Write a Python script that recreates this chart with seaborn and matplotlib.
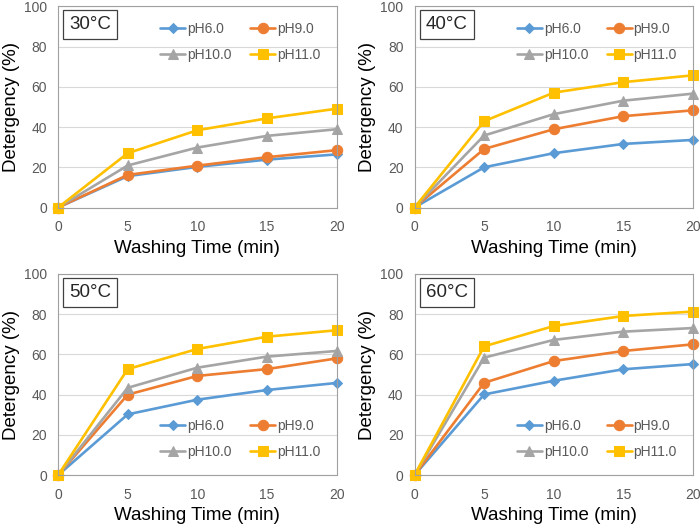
import pandas as pd
import numpy as np
import matplotlib
matplotlib.use("Agg")
import matplotlib.pyplot as plt
import seaborn as sns

# washing time (min)
time = [0, 5, 10, 15, 20]
ph_labels = ["pH6.0", "pH9.0", "pH10.0", "pH11.0"]
temps = ["30°C", "40°C", "50°C", "60°C"]

# detergency (%)
det_30 = {"pH6.0": [0, 15.6, 20.2, 23.8, 26.4],
          "pH9.0": [0, 16.2, 20.8, 25.0, 28.5],
          "pH10.0": [0, 20.9, 29.8, 35.6, 38.9],
          "pH11.0": [0, 27.0, 38.4, 44.3, 49.1]}
det_40 = {"pH6.0": [0, 20.0, 27.0, 31.6, 33.6],
          "pH9.0": [0, 29.1, 38.9, 45.4, 48.3],
          "pH10.0": [0, 35.8, 46.4, 53.1, 56.6],
          "pH11.0": [0, 42.9, 57.1, 62.3, 65.7]}
det_50 = {"pH6.0": [0, 30.2, 37.5, 42.3, 45.8],
          "pH9.0": [0, 40.0, 49.3, 52.7, 58.0],
          "pH10.0": [0, 43.4, 53.4, 58.9, 61.7],
          "pH11.0": [0, 52.7, 62.7, 68.8, 72.0]}
det_60 = {"pH6.0": [0, 40.1, 46.9, 52.6, 55.2],
          "pH9.0": [0, 45.9, 56.7, 61.7, 65.0],
          "pH10.0": [0, 58.4, 67.2, 71.3, 73.1],
          "pH11.0": [0, 64.0, 74.1, 79.1, 81.3]}
all_data = [det_30, det_40, det_50, det_60]

colors = ["#5B9BD5", "#ED7D31", "#A5A5A5", "#FFC000"]
markers = ["D", "o", "^", "s"]
msizes = [5.5, 7.5, 7.5, 7.5]

sns.set_style("white")
plt.rcParams["font.family"] = ["Liberation Sans", "DejaVu Sans"]

fig, axes = plt.subplots(2, 2, figsize=(7, 5.25), dpi=100)
fig.subplots_adjust(left=0.083, right=0.99, top=0.988, bottom=0.095,
                    wspace=0.28, hspace=0.33)

for i, ax in enumerate(axes.flat):
    d = all_data[i]
    rows = []
    for ph in ph_labels:
        for t, v in zip(time, d[ph]):
            rows.append({"time": t, "det": v, "ph": ph})
    df = pd.DataFrame(rows)
    for j, ph in enumerate(ph_labels):
        sns.lineplot(data=df[df.ph == ph], x="time", y="det", ax=ax,
                     color=colors[j], marker=markers[j], markersize=msizes[j],
                     markeredgecolor=colors[j], linewidth=1.9, label=ph)
    ax.set_xlim(0, 20)
    ax.set_ylim(0, 100)
    ax.set_xticks([0, 5, 10, 15, 20])
    ax.set_yticks([0, 20, 40, 60, 80, 100])
    ax.yaxis.grid(True, color="#D9D9D9", linewidth=0.8)
    ax.set_axisbelow(True)
    for sp in ax.spines.values():
        sp.set_color("#A0A0A0")
        sp.set_linewidth(0.8)
    ax.tick_params(axis="both", labelsize=10, colors="#595959", length=0)
    ax.tick_params(axis="x", pad=9)
    ax.tick_params(axis="y", pad=8)
    ax.set_xlabel("Washing Time (min)", fontsize=13.5, color="black", labelpad=4)
    ax.set_ylabel("Detergency (%)", fontsize=13.5, color="black", labelpad=3)
    for line in ax.lines:
        line.set_clip_on(False)
    # row-wise legend order: pH6.0 pH9.0 / pH10.0 pH11.0
    h, l = ax.get_legend_handles_labels()
    order = [0, 2, 1, 3]
    loc = "upper right" if i < 2 else "lower right"
    ax.legend([h[k] for k in order], [l[k] for k in order], loc=loc, ncol=2,
              frameon=False, fontsize=10, handlelength=1.8, columnspacing=1.3,
              handletextpad=0.15, labelspacing=0.85, labelcolor="#595959",
              borderaxespad=0.75)
    ax.text(0.04, 0.95, temps[i], transform=ax.transAxes, fontsize=13.5,
            va="top", ha="left",
            bbox=dict(boxstyle="square,pad=0.32", fc="white", ec="#404040", lw=0.9))

fig.savefig("out.png", dpi=100)
